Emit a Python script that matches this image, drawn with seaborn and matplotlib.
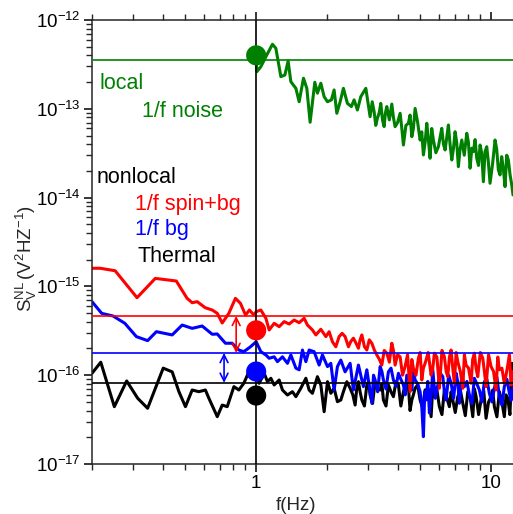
import numpy as np
import pandas as pd
import matplotlib
matplotlib.use("Agg")
import matplotlib.pyplot as plt
import matplotlib.ticker as mticker
import seaborn as sns

# -------------------------------
# Data
# -------------------------------
red_f = [0.200, 0.217, 0.251, 0.311, 0.372, 0.457, 0.508, 0.534, 0.561, 0.607,
         0.650, 0.683, 0.717, 0.765, 0.816, 0.857, 0.901, 0.936, 0.978, 1.000,
         1.047, 1.100, 1.136, 1.193, 1.253, 1.316, 1.382, 1.451, 1.524, 1.601,
         1.653, 1.736, 1.795, 1.885, 1.980, 2.045, 2.112, 2.183, 2.255, 2.323,
         2.391, 2.471, 2.594, 2.725, 2.818, 2.959, 3.108, 3.264, 3.427, 3.599,
         3.780, 3.904, 4.101, 4.305, 4.522, 4.671, 4.906, 5.072, 5.238, 5.556,
         5.738, 6.026, 6.329, 6.543, 6.758, 6.980, 7.216, 7.579, 7.827, 8.220,
         8.490, 8.778, 9.220, 9.522, 10.00, 10.50, 10.85, 11.39, 11.78, 12.17,
         12.40]
red_s = [1.60e-15, 1.60e-15, 1.50e-15, 7.46e-16, 1.23e-15, 1.15e-15, 7.34e-16, 6.55e-16, 6.73e-16, 5.75e-16,
         5.42e-16, 4.97e-16, 3.87e-16, 4.97e-16, 7.34e-16, 6.45e-16, 4.76e-16, 5.42e-16, 4.76e-16, 5.19e-16,
         5.42e-16, 4.37e-16, 3.23e-16, 3.84e-16, 3.52e-16, 4.01e-16, 3.77e-16, 4.18e-16, 3.90e-16, 4.37e-16,
         3.67e-16, 3.23e-16, 2.84e-16, 3.29e-16, 2.72e-16, 3.09e-16, 2.38e-16, 2.09e-16, 2.72e-16, 2.96e-16,
         2.72e-16, 2.09e-16, 2.61e-16, 2.01e-16, 2.84e-16, 1.92e-16, 2.29e-16, 1.69e-16, 1.30e-16, 1.77e-16,
         2.29e-16, 1.30e-16, 1.61e-16, 1.25e-16, 6.52e-17, 1.20e-16, 1.55e-16, 8.83e-17, 1.36e-16, 1.00e-16,
         1.77e-16, 7.13e-17, 1.61e-16, 9.62e-17, 1.92e-16, 8.11e-17, 1.42e-16, 7.13e-17, 1.30e-16, 8.11e-17,
         1.77e-16, 9.62e-17, 1.55e-16, 7.43e-17, 1.25e-16, 6.81e-17, 1.15e-16, 8.11e-17, 1.30e-16, 7.76e-17,
         1.10e-16]
# extra points in the dense high-frequency part
red_f_hi = [2.53, 2.66, 2.77, 2.89, 3.03, 3.19, 3.35, 3.51, 3.69, 3.84,
            4.00, 4.20, 4.41, 4.60, 4.79, 4.99, 5.15, 5.40, 5.65, 5.88,
            6.18, 6.44, 6.65, 6.87, 7.10, 7.40, 7.70, 8.02, 8.35, 8.63,
            9.00, 9.37, 9.76, 10.25, 10.68, 11.12, 11.58, 11.97, 12.28]
red_s_hi = [2.4e-16, 2.3e-16, 2.5e-16, 2.1e-16, 2.5e-16, 1.9e-16, 1.5e-16, 1.9e-16, 1.4e-16, 1.9e-16,
            1.7e-16, 1.0e-16, 1.7e-16, 1.5e-16, 1.0e-16, 1.8e-16, 1.2e-16, 1.8e-16, 1.2e-16, 1.6e-16,
            1.9e-16, 1.1e-16, 1.6e-16, 1.2e-16, 1.8e-16, 1.1e-16, 1.7e-16, 1.2e-16, 1.5e-16, 1.2e-16,
            1.8e-16, 1.1e-16, 1.7e-16, 1.1e-16, 1.6e-16, 1.2e-16, 1.0e-16, 1.7e-16, 1.0e-16]

blue_f = [0.200, 0.220, 0.246, 0.276, 0.309, 0.345, 0.376, 0.439, 0.484, 0.534,
          0.589, 0.650, 0.683, 0.740, 0.790, 0.844, 0.886, 0.946, 1.000, 1.047,
          1.100, 1.136, 1.193, 1.232, 1.294, 1.359, 1.405, 1.476, 1.524, 1.574,
          1.628, 1.681, 1.765, 1.854, 1.915, 2.012, 2.079, 2.147, 2.218, 2.293,
          2.391, 2.512, 2.594, 2.725, 2.861, 2.959, 3.108, 3.209, 3.371, 3.481,
          3.656, 3.840, 4.033, 4.236, 4.378, 4.599, 4.750, 4.988, 5.152, 5.290,
          5.464, 5.649, 5.933, 6.231, 6.435, 6.758, 7.098, 7.331, 7.699, 8.086,
          8.490, 8.917, 9.365, 9.835, 10.33, 10.85, 11.39, 11.97, 12.40]
blue_s = [6.73e-16, 4.97e-16, 4.64e-16, 3.84e-16, 2.72e-16, 2.45e-16, 3.09e-16, 2.84e-16, 3.67e-16, 3.37e-16,
          3.58e-16, 2.89e-16, 2.91e-16, 2.29e-16, 2.29e-16, 1.92e-16, 1.84e-16, 2.09e-16, 2.38e-16, 1.84e-16,
          1.69e-16, 1.55e-16, 1.61e-16, 1.42e-16, 1.61e-16, 1.36e-16, 1.69e-16, 1.20e-16, 1.15e-16, 1.92e-16,
          1.42e-16, 1.92e-16, 1.84e-16, 1.30e-16, 1.69e-16, 1.25e-16, 1.36e-16, 6.81e-17, 1.25e-16, 1.48e-16,
          1.09e-16, 1.36e-16, 6.81e-17, 1.30e-16, 7.43e-17, 1.15e-16, 4.83e-17, 8.83e-17, 1.25e-16, 8.83e-17,
          1.09e-16, 8.83e-17, 1.05e-16, 7.76e-17, 1.00e-16, 6.81e-17, 8.83e-17, 6.52e-17, 2.03e-17, 5.26e-17,
          3.75e-17, 1.15e-16, 7.76e-17, 9.62e-17, 5.26e-17, 8.11e-17, 1.05e-16, 4.83e-17, 7.43e-17, 5.98e-17,
          9.23e-17, 6.81e-17, 8.45e-17, 6.25e-17, 7.13e-17, 5.73e-17, 7.43e-17, 6.25e-17, 7.50e-17]
blue_f_hi = [3.16, 3.29, 3.43, 3.57, 3.75, 3.94, 4.13, 4.31, 4.49, 4.67,
             4.87, 5.07, 5.22, 5.38, 5.56, 5.79, 6.08, 6.33, 6.60, 6.93,
             7.21, 7.51, 7.89, 8.29, 8.70, 9.14, 9.60, 10.08, 10.59, 11.12,
             11.68, 12.18]
blue_s_hi = [1.0e-16, 6.5e-17, 1.1e-16, 7.0e-17, 1.2e-16, 7.5e-17, 9.0e-17, 6.0e-17, 9.5e-17, 1.1e-16,
             8.0e-17, 4.5e-17, 6.5e-17, 8.5e-17, 6.0e-17, 5.5e-17, 1.05e-16, 6.5e-17, 1.0e-16, 5.5e-17,
             8.5e-17, 1.0e-16, 8.5e-17, 4.8e-17, 8.0e-17, 5.0e-17, 9.0e-17, 5.0e-17, 9.5e-17, 4.6e-17,
             9.0e-17, 5.2e-17]

black_f = [0.200, 0.218, 0.249, 0.281, 0.313, 0.345, 0.402, 0.439, 0.469, 0.500,
           0.534, 0.570, 0.608, 0.629, 0.683, 0.717, 0.753, 0.804, 0.844, 0.886,
           0.931, 0.997, 1.030, 1.082, 1.117, 1.155, 1.193, 1.253, 1.294, 1.359,
           1.427, 1.476, 1.549, 1.628, 1.681, 1.736, 1.823, 1.885, 1.947, 2.012,
           2.079, 2.147, 2.218, 2.293, 2.352, 2.432, 2.512, 2.638, 2.725, 2.818,
           2.959, 3.055, 3.209, 3.371, 3.481, 3.656, 3.840, 4.033, 4.236, 4.447,
           4.599, 4.750, 4.988, 5.238, 5.556, 5.738, 6.026, 6.329, 6.645, 6.871,
           7.216, 7.579, 7.960, 8.360, 8.636, 9.068, 9.522, 10.00, 10.33, 10.85,
           11.39, 11.78, 12.29]
black_s = [1.05e-16, 1.40e-16, 4.42e-17, 8.61e-17, 5.50e-17, 4.24e-17, 1.20e-16, 1.09e-16, 6.52e-17, 4.42e-17,
           6.81e-17, 6.52e-17, 6.81e-17, 5.50e-17, 3.41e-17, 4.61e-17, 4.42e-17, 7.43e-17, 6.81e-17, 8.11e-17,
           1.09e-16, 1.15e-16, 8.11e-17, 1.05e-16, 8.45e-17, 9.23e-17, 7.76e-17, 8.83e-17, 6.81e-17, 5.98e-17,
           6.52e-17, 5.73e-17, 7.13e-17, 9.23e-17, 6.81e-17, 6.25e-17, 9.62e-17, 7.76e-17, 3.88e-17, 8.45e-17,
           6.25e-17, 7.13e-17, 5.03e-17, 5.26e-17, 6.52e-17, 8.45e-17, 7.13e-17, 4.61e-17, 8.45e-17, 5.26e-17,
           7.76e-17, 5.98e-17, 8.45e-17, 6.81e-17, 5.26e-17, 7.76e-17, 5.73e-17, 7.76e-17, 6.52e-17, 7.43e-17,
           5.26e-17, 7.13e-17, 5.26e-17, 6.81e-17, 3.41e-17, 5.73e-17, 4.42e-17, 6.81e-17, 4.42e-17, 5.26e-17,
           5.73e-17, 4.83e-17, 6.52e-17, 3.41e-17, 5.73e-17, 5.26e-17, 3.27e-17, 5.73e-17, 4.42e-17, 6.52e-17,
           3.41e-17, 5.50e-17, 1.36e-16]
black_f_hi = [2.58, 2.68, 2.77, 2.89, 3.01, 3.13, 3.29, 3.43, 3.57, 3.75,
              3.94, 4.13, 4.34, 4.52, 4.67, 4.87, 5.11, 5.40, 5.65, 5.88,
              6.18, 6.49, 6.76, 7.04, 7.40, 7.77, 8.16, 8.50, 8.85, 9.30,
              9.76, 10.16, 10.59, 11.12, 11.58, 12.03]
black_s_hi = [6.0e-17, 7.0e-17, 6.5e-17, 4.5e-17, 8.5e-17, 4.8e-17, 7.0e-17, 8.0e-17, 4.5e-17, 6.5e-17,
              8.5e-17, 4.5e-17, 8.0e-17, 4.0e-17, 6.0e-17, 7.8e-17, 4.3e-17, 7.0e-17, 7.5e-17, 6.8e-17,
              3.6e-17, 5.5e-17, 6.5e-17, 3.8e-17, 6.8e-17, 3.5e-17, 5.5e-17, 7.0e-17, 3.6e-17, 6.8e-17,
              5.0e-17, 6.8e-17, 3.4e-17, 5.0e-17, 6.0e-17, 3.6e-17]

green_f = [1.000, 1.007, 1.047, 1.100, 1.173, 1.213, 1.274, 1.325, 1.368, 1.405,
           1.476, 1.524, 1.590, 1.643, 1.697, 1.777, 1.823, 1.885, 1.947, 2.012,
           2.091, 2.147, 2.205, 2.278, 2.352, 2.446, 2.544, 2.612, 2.698, 2.789,
           2.930, 3.055, 3.178, 3.282, 3.393, 3.505, 3.599, 3.780, 3.904, 4.101,
           4.236, 4.447, 4.599, 4.750, 4.988, 5.152, 5.326, 5.500, 5.682, 5.968,
           6.169, 6.373, 6.582, 6.805, 7.028, 7.260, 7.505, 7.882, 8.142, 8.410,
           8.693, 8.979, 9.274, 9.587, 9.901, 10.40, 10.74, 11.10, 11.47, 11.85,
           12.25, 12.40]
green_s = [3.60e-13, 2.62e-13, 2.98e-13, 3.86e-13, 5.33e-13, 4.80e-13, 2.30e-13, 2.40e-13, 3.45e-13, 2.02e-13,
           1.70e-13, 1.20e-13, 2.21e-13, 1.70e-13, 7.05e-14, 1.99e-13, 1.50e-13, 1.94e-13, 1.37e-13, 1.20e-13,
           1.26e-13, 1.63e-13, 8.90e-14, 1.20e-13, 1.70e-13, 1.15e-13, 1.06e-13, 1.26e-13, 9.69e-14, 1.37e-13,
           1.70e-13, 8.15e-14, 9.27e-14, 7.82e-14, 1.15e-13, 6.30e-14, 1.06e-13, 1.13e-13, 6.29e-14, 8.90e-14,
           3.91e-14, 6.87e-14, 4.85e-14, 1.01e-13, 4.45e-14, 3.02e-14, 6.87e-14, 2.77e-14, 4.45e-14, 3.74e-14,
           6.03e-14, 3.44e-14, 6.57e-14, 2.65e-14, 5.52e-14, 2.23e-14, 4.45e-14, 5.30e-14, 2.14e-14, 3.29e-14,
           2.77e-14, 3.91e-14, 1.51e-14, 3.74e-14, 1.45e-14, 4.45e-14, 2.05e-14, 2.89e-14, 1.33e-14, 2.65e-14,
           1.39e-14, 1.07e-14]
green_f_hi = [3.12, 3.23, 3.34, 3.45, 3.55, 3.69, 3.84, 4.00, 4.17, 4.34,
              4.52, 4.67, 4.87, 5.07, 5.24, 5.41, 5.59, 5.82, 6.07, 6.27,
              6.48, 6.69, 6.92, 7.14, 7.38, 7.69, 8.01, 8.28, 8.55, 8.84,
              9.12, 9.43, 9.74, 10.15, 10.57, 10.92, 11.28, 11.66, 12.05]
green_s_hi = [1.2e-13, 6.5e-14, 9.0e-14, 7.5e-14, 9.0e-14, 7.5e-14, 8.0e-14, 7.0e-14, 6.0e-14, 6.5e-14,
              8.5e-14, 6.0e-14, 7.0e-14, 5.5e-14, 4.2e-14, 4.5e-14, 6.0e-14, 3.2e-14, 4.8e-14, 4.0e-14,
              4.8e-14, 4.0e-14, 3.6e-14, 4.2e-14, 3.5e-14, 3.0e-14, 4.2e-14, 3.6e-14, 4.5e-14, 2.3e-14,
              3.2e-14, 3.3e-14, 2.5e-14, 2.4e-14, 3.5e-14, 1.8e-14, 2.1e-14, 3.0e-14, 1.8e-14]

# reference levels (horizontal lines) and the points at 1 Hz
level_names = ["local", "spin", "bg", "thermal"]
level_values = [3.5e-13, 4.65e-16, 1.78e-16, 8.2e-17]
point_values = [4.0e-13, 3.2e-16, 1.1e-16, 5.9e-17]
colors = ["#008000", "#ff0000", "#0000ff", "#000000"]

# arrows between levels (f, from, to)
arrow_red = (0.822, 4.65e-16, 1.78e-16)
arrow_blue = (0.73, 1.78e-16, 8.2e-17)


def spectrum(f, s, f_hi, s_hi):
    # join the read points and the dense high-frequency points, ordered by f
    df = pd.DataFrame({"f": list(f) + list(f_hi), "S": list(s) + list(s_hi)})
    return df.sort_values("f").reset_index(drop=True)


# -------------------------------
# Style
# -------------------------------
sns.set_style("ticks")
plt.rcParams["font.family"] = ["Liberation Sans", "DejaVu Sans"]
plt.rcParams["mathtext.fontset"] = "custom"
plt.rcParams["mathtext.rm"] = "Liberation Sans"
plt.rcParams["mathtext.it"] = "Liberation Sans:italic"
plt.rcParams["axes.linewidth"] = 1.1
plt.rcParams["axes.unicode_minus"] = False

fig = plt.figure(figsize=(5.13, 5.14), dpi=100)
ax = fig.add_axes([0.1793, 0.0973, 0.8207, 0.8638])

# -------------------------------
# Curves
# -------------------------------
lw = 2.2
for f, s, f_hi, s_hi, c in [(black_f, black_s, black_f_hi, black_s_hi, "black"),
                            (blue_f, blue_s, blue_f_hi, blue_s_hi, "#0000ff"),
                            (red_f, red_s, red_f_hi, red_s_hi, "#ff0000"),
                            (green_f, green_s, green_f_hi, green_s_hi, "#008000")]:
    df = spectrum(f, s, f_hi, s_hi)
    sns.lineplot(data=df, x="f", y="S", ax=ax, color=c, lw=lw, estimator=None)

for val, c in zip(level_values, colors):
    ax.axhline(val, color=c, lw=1.2, zorder=4)
ax.axvline(1.0, color="black", lw=1.2, zorder=4)

sns.scatterplot(x=[1.0] * 4, y=point_values, hue=level_names, palette=colors,
                s=210, edgecolor="none", legend=False, ax=ax, zorder=6)

for (xa, top, bot), c in [(arrow_red, "#ff0000"), (arrow_blue, "#0000ff")]:
    ax.annotate("", xy=(xa, bot), xytext=(xa, top),
                arrowprops=dict(arrowstyle="<->", color=c, lw=1.2,
                                mutation_scale=14, shrinkA=0, shrinkB=0), zorder=5)

# -------------------------------
# Axes
# -------------------------------
ax.set_xscale("log")
ax.set_yscale("log")
ax.set_xlim(0.2, 12.4)
ax.set_ylim(1e-17, 1e-12)
ax.set_xticks([1, 10])
ax.set_xticklabels(["1", "10"])
ax.xaxis.set_minor_locator(mticker.LogLocator(base=10, subs=np.arange(2, 10)))
ax.xaxis.set_minor_formatter(mticker.NullFormatter())
ax.set_yticks([1e-17, 1e-16, 1e-15, 1e-14, 1e-13, 1e-12])
ax.yaxis.set_major_formatter(mticker.LogFormatterSciNotation())
ax.yaxis.set_minor_locator(mticker.LogLocator(base=10, subs=np.arange(2, 10), numticks=10))
ax.yaxis.set_minor_formatter(mticker.NullFormatter())
ax.set_ylim(1e-17, 1e-12)
ax.spines["right"].set_visible(False)

ax.tick_params(which="major", direction="out", length=6, width=1.1, labelsize=13.5, pad=2, colors="black")
ax.tick_params(which="minor", direction="out", length=4, width=1.0)
ax.tick_params(axis="x", which="both", top=True)

ax.set_xlabel("f(Hz)", fontsize=13.5)
ax.xaxis.set_label_coords(0.485, -0.075)
ax.set_ylabel(r"$\mathregular{S_V^{NL}\,(V^2HZ^{-1})}$", fontsize=13.5)
ax.yaxis.set_label_coords(-0.125, 0.462)

# annotations
ax.text(0.019, 0.845, "local", color="#008000", fontsize=15.5, transform=ax.transAxes)
ax.text(0.119, 0.782, "1/f noise", color="#008000", fontsize=15.5, transform=ax.transAxes)
ax.text(0.010, 0.633, "nonlocal", color="black", fontsize=15.5, transform=ax.transAxes)
ax.text(0.102, 0.572, "1/f spin+bg", color="#ff0000", fontsize=15.5, transform=ax.transAxes)
ax.text(0.102, 0.516, "1/f bg", color="#0000ff", fontsize=15.5, transform=ax.transAxes)
ax.text(0.109, 0.455, "Thermal", color="black", fontsize=15.5, transform=ax.transAxes)

fig.savefig("out.png", dpi=100)
